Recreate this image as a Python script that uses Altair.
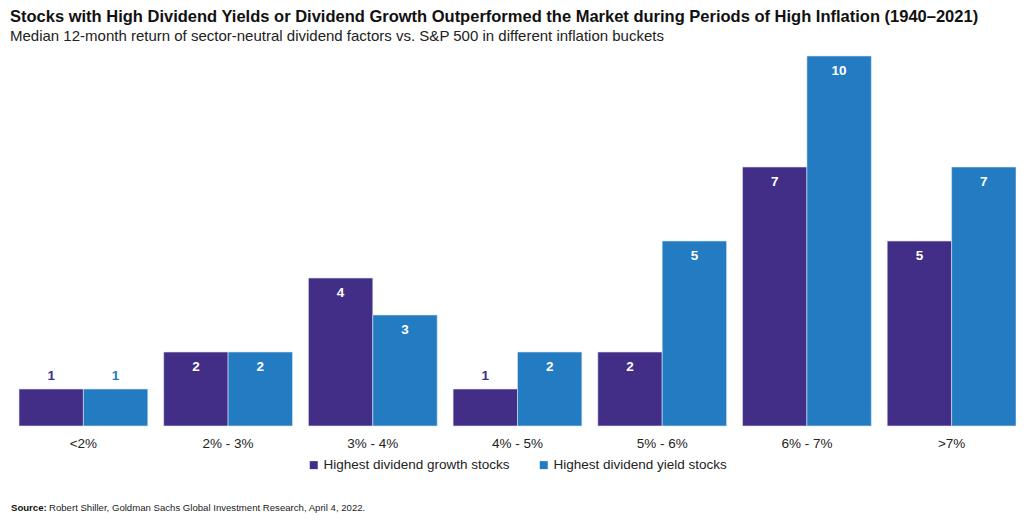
import altair as alt
import pandas as pd

categories = ["<2%", "2% - 3%", "3% - 4%", "4% - 5%", "5% - 6%", "6% - 7%", ">7%"]
growth = [1, 2, 4, 1, 2, 7, 5]
yield_ = [1, 2, 3, 2, 5, 10, 7]
series = ["Highest dividend growth stocks", "Highest dividend yield stocks"]
colors = ["#422E87", "#237BC1"]

title_text = "Stocks with High Dividend Yields or Dividend Growth Outperformed the Market during Periods of High Inflation (1940\u20132021)"
subtitle_text = "Median 12-month return of sector-neutral dividend  factors vs. S&P 500 in different inflation buckets"
source_bold = "Source:"
source_text = "Robert Shiller, Goldman Sachs Global Investment Research, April 4, 2022."

rows = []
for c, g, y in zip(categories, growth, yield_):
    rows.append({"bucket": c, "series": series[0], "value": g})
    rows.append({"bucket": c, "series": series[1], "value": y})
df = pd.DataFrame(rows)

FONT = "Liberation Sans"

x = alt.X("bucket:N", sort=categories,
          scale=alt.Scale(paddingInner=0.11, paddingOuter=0),
          axis=alt.Axis(title=None, labelAngle=0, ticks=False, domain=False, grid=False,
                        labelFontSize=13.5, labelColor="#222222", labelPadding=10, labelFont=FONT))
xo = alt.XOffset("series:N", sort=series, scale=alt.Scale(paddingInner=0, paddingOuter=0))
y = alt.Y("value:Q", scale=alt.Scale(domain=[0, 10], nice=False), axis=None)
color = alt.Color("series:N", sort=series,
                  scale=alt.Scale(domain=series, range=colors),
                  legend=alt.Legend(title=None, orient="none", legendX=288, legendY=402,
                                    direction="horizontal", symbolType="square", symbolSize=64,
                                    labelFontSize=13.5, labelFont=FONT, labelColor="#222222",
                                    labelLimit=0, columnPadding=27, labelOffset=3,
                                    symbolStrokeWidth=0))

bars = alt.Chart(df).mark_bar(stroke="#dce6f2", strokeWidth=0.6).encode(x=x, xOffset=xo, y=y, color=color)

inside = alt.Chart(df).transform_filter("datum.value > 1").mark_text(
    color="white", fontWeight="bold", fontSize=13.5, dy=15, font=FONT, baseline="middle"
).encode(x=x, xOffset=xo, y=y, text="value:Q")

above = alt.Chart(df).transform_filter("datum.value <= 1").mark_text(
    fontWeight="bold", fontSize=13.5, dy=-13, font=FONT, baseline="middle"
).encode(x=x, xOffset=xo, y=y, text="value:Q",
         color=alt.condition("datum.series == '" + series[0] + "'", alt.value(colors[0]), alt.value(colors[1])))

src_df = pd.DataFrame({"a": [source_bold], "b": [source_text]})
src1 = alt.Chart(src_df).mark_text(fontWeight="bold", fontSize=9.6, font=FONT, align="left",
                                   baseline="middle", color="#111111").encode(
    x=alt.value(-8), y=alt.value(452), text="a:N")
src2 = alt.Chart(src_df).mark_text(fontSize=9.6, font=FONT, align="left",
                                   baseline="middle", color="#222222").encode(
    x=alt.value(30), y=alt.value(452), text="b:N")

chart = alt.layer(bars, inside, above, src1, src2).properties(
    width=997, height=370,
    padding={"left": 11, "top": 48, "right": 0, "bottom": 88},
    autosize=alt.AutoSizeParams(type="none"),
    title=alt.TitleParams(text=title_text, subtitle=subtitle_text, anchor="start", frame="group",
                          dx=-9, offset=12, font=FONT, fontSize=16.5, fontWeight="bold", color="#111111",
                          subtitleFont=FONT, subtitleFontSize=15, subtitleColor="#222222",
                          subtitlePadding=3),
    background="white",
).configure_view(stroke=None)

chart.save("out.html", embed_options={"renderer": "svg", "actions": False})
